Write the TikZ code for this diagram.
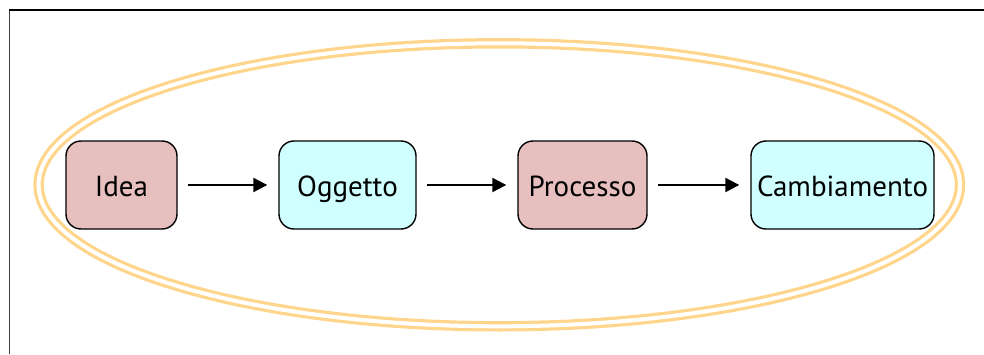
\documentclass[tikz,border=0pt]{standalone}
\usepackage{fontspec}
\setmainfont{PT Sans}
\usetikzlibrary{arrows.meta}
\definecolor{ringc}{RGB}{255,213,140}
\definecolor{pinkc}{RGB}{232,191,191}
\definecolor{cyanc}{RGB}{208,255,255}
\begin{document}
\begin{tikzpicture}[x=1pt,y=1pt,
  box/.style={draw=black,line width=1.4pt,rounded corners=15pt,minimum height=88pt,inner sep=0pt,text height=22pt,text depth=0pt,font=\fontsize{29}{34}\selectfont},
  flow/.style={line width=2.2pt,-{Triangle[length=14pt,width=14pt]},shorten <=10pt,shorten >=11pt}]
\useasboundingbox (0,0) rectangle (984,354);
\fill[white] (0,0) rectangle (984,354);
\draw[line width=1.4pt,black!75] (9.5,0) -- (9.5,344.3);
\draw[line width=1.4pt,black] (8.8,344) -- (984,344);
\draw[ringc,line width=3.2pt,double=white,double distance=4pt] (499.3,169.2) ellipse [x radius=460.7,y radius=141.5];
\node[box,fill=pinkc,minimum width=111pt] (idea) at (121.5,169) {Idea};
\node[box,fill=cyanc,minimum width=137pt] (ogg) at (347.5,169) {Oggetto};
\node[box,fill=pinkc,minimum width=129pt] (proc) at (582.5,169) {Processo};
\node[box,fill=cyanc,minimum width=183pt] (camb) at (842.5,169) {Cambiamento};
\draw[flow] (idea) -- (ogg);
\draw[flow] (ogg) -- (proc);
\draw[flow] (proc) -- (camb);
\end{tikzpicture}
\end{document}
